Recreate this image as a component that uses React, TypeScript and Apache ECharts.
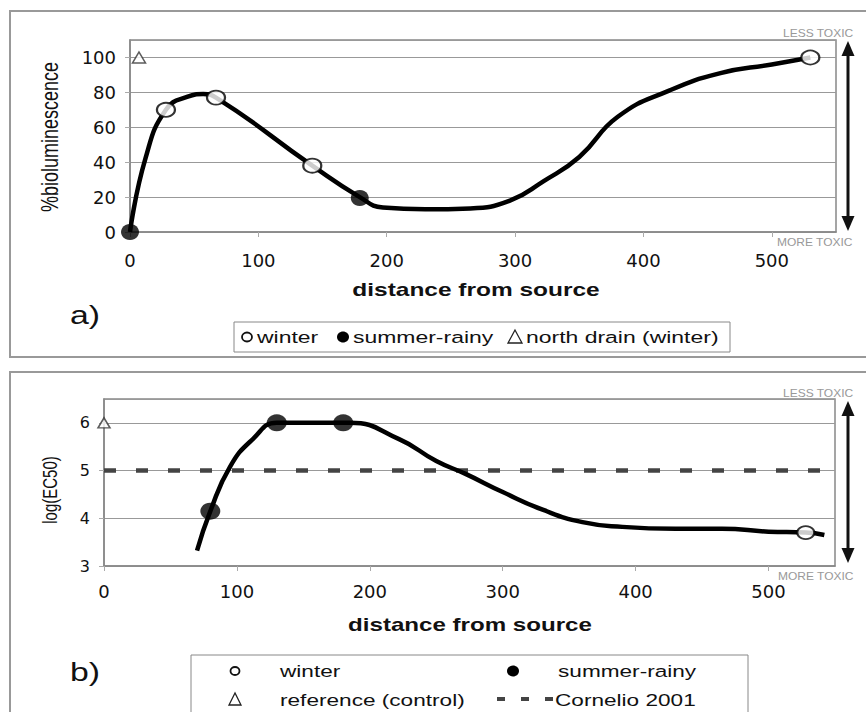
import React, { useEffect, useRef } from "react";
import * as echarts from "echarts";

// ---- data (panel a: % bioluminescence) ----
const aTrend: number[][] = [
  [0, 0], [12, 42], [28, 70], [45, 77.5], [57, 79], [67, 77], [142, 38],
  [179, 20], [197, 14], [230, 13], [265, 13.5], [296, 18], [322, 29],
  [350, 43], [380, 66], [420, 81], [460, 91], [500, 96], [530, 100],
];
const aWinter: number[][] = [[28, 70], [67, 77], [142, 38], [530, 100]];
const aSummer: number[][] = [[0, 0], [179, 19.5]];
const aNorthDrain: number[][] = [[7, 100]];

// ---- data (panel b: log(EC50)) ----
const bTrend: number[][] = [
  [70, 3.32], [80, 4.15], [95, 5.09], [112, 5.66], [130, 6], [155, 6], [185, 6],
  [222, 5.66], [250, 5.2], [272, 4.93], [300, 4.55], [330, 4.18], [360, 3.92],
  [390, 3.82], [430, 3.78], [465, 3.78], [500, 3.72], [528, 3.7], [542, 3.65],
];
const bWinter: number[][] = [[528, 3.7]];
const bSummer: number[][] = [[80, 4.15], [130, 6], [180, 6]];
const bReference: number[][] = [[0, 6]];
const bCornelio: number[][] = [[0, 5], [550, 5]];

const xTicks = [0, 100, 200, 300, 400, 500];
const aYTicks = [0, 20, 40, 60, 80, 100];
const bYTicks = [3, 4, 5, 6];

const SX = 1.35;
const FONT = "'Liberation Sans', Arial, sans-serif";

function txt(x: number, y: number, text: string, opts: any = {}) {
  return {
    type: "text",
    x,
    y,
    scaleX: opts.scaleX ?? SX,
    scaleY: opts.scaleY ?? 1,
    rotation: opts.rotation ?? 0,
    z: 10,
    style: {
      text,
      fill: opts.color ?? "#111",
      font: `${opts.weight ?? "normal"} ${opts.size ?? 17}px ${FONT}`,
      align: opts.align ?? "left",
      verticalAlign: "middle",
    },
  };
}

function arrow(x: number, y1: number, y2: number) {
  return [
    { type: "line", z: 10, shape: { x1: x, y1: y1 + 10, x2: x, y2: y2 - 10 }, style: { stroke: "#111", lineWidth: 3 } },
    { type: "polygon", z: 10, shape: { points: [[x, y1], [x - 6.5, y1 + 15], [x + 6.5, y1 + 15]] }, style: { fill: "#111" } },
    { type: "polygon", z: 10, shape: { points: [[x, y2], [x - 6.5, y2 - 15], [x + 6.5, y2 - 15]] }, style: { fill: "#111" } },
  ];
}

function xAxisCfg(gridIndex: number, margin: number) {
  return {
    type: "value",
    gridIndex,
    min: 0,
    max: 550,
    interval: 100,
    axisLine: { show: true, onZero: false, lineStyle: { color: "#888", width: 1.5 } },
    axisTick: { show: true, length: 5, lineStyle: { color: "#aaa" } },
    axisLabel: {
      margin,
      fontSize: 18,
      fontFamily: "'DejaVu Sans', sans-serif",
      color: "#111",
      showMaxLabel: false,
      formatter: (v: number) => (xTicks.includes(v) ? String(v) : ""),
    },
    splitLine: { show: false },
  };
}

export default function App() {
  const ref = useRef<HTMLDivElement>(null);
  useEffect(() => {
    if (!ref.current) return;
    const chart = echarts.init(ref.current, null, { renderer: "svg" });
    const option: any = {
      animation: false,
      backgroundColor: "#fff",
      grid: [
        { left: 130, top: 40, width: 706, height: 192, show: true, borderColor: "#888", borderWidth: 1.5, backgroundColor: "transparent" },
        { left: 104, top: 399, width: 731, height: 167, show: true, borderColor: "#888", borderWidth: 1.5, backgroundColor: "transparent" },
      ],
      xAxis: [xAxisCfg(0, 19), xAxisCfg(1, 16)],
      yAxis: [
        {
          type: "value", gridIndex: 0, min: 0, max: 110, interval: 20,
          axisLine: { show: true, lineStyle: { color: "#888", width: 1.5 } },
          axisTick: { show: true, length: 5, lineStyle: { color: "#aaa" } },
          axisLabel: {
            margin: 14, fontSize: 18, fontFamily: "'DejaVu Sans', sans-serif", color: "#111",
            showMaxLabel: false,
            formatter: (v: number) => (aYTicks.includes(v) ? String(v) : ""),
          },
          splitLine: { show: true, lineStyle: { color: "#999", width: 1.2 } },
        },
        {
          type: "value", gridIndex: 1, min: 3, max: 6.5, interval: 1,
          axisLine: { show: true, lineStyle: { color: "#888", width: 1.5 } },
          axisTick: { show: true, length: 5, lineStyle: { color: "#aaa" } },
          axisLabel: {
            margin: 14, fontSize: 16, fontFamily: "'DejaVu Sans', sans-serif", color: "#111",
            showMaxLabel: false,
            formatter: (v: number) => (bYTicks.includes(v) ? String(v) : ""),
          },
          splitLine: { show: true, lineStyle: { color: "#999", width: 1.2 } },
        },
      ],
      series: [
        {
          name: "trend a", type: "line", xAxisIndex: 0, yAxisIndex: 0, data: aTrend,
          smooth: 0.5, showSymbol: false, symbol: "none",
          lineStyle: { color: "#000", width: 4.5 }, z: 2,
        },
        {
          name: "winter", type: "scatter", xAxisIndex: 0, yAxisIndex: 0, data: aWinter,
          symbol: "circle", symbolSize: [18, 14],
          itemStyle: { color: "#fff", borderColor: "#000", borderWidth: 2 }, z: 3,
        },
        {
          name: "summer-rainy", type: "scatter", xAxisIndex: 0, yAxisIndex: 0, data: aSummer,
          symbol: "circle", symbolSize: [18, 16], itemStyle: { color: "#000" }, z: 3,
        },
        {
          name: "north drain (winter)", type: "scatter", xAxisIndex: 0, yAxisIndex: 0, data: aNorthDrain,
          symbol: "triangle", symbolSize: [13, 11],
          itemStyle: { color: "#fff", borderColor: "#333", borderWidth: 1.5 }, z: 3,
        },
        {
          name: "Cornelio 2001", type: "line", xAxisIndex: 1, yAxisIndex: 1, data: bCornelio,
          showSymbol: false, symbol: "none",
          lineStyle: { color: "#444", width: 4.5, type: [12, 20] }, z: 1,
        },
        {
          name: "trend b", type: "line", xAxisIndex: 1, yAxisIndex: 1, data: bTrend,
          smooth: 0.5, showSymbol: false, symbol: "none",
          lineStyle: { color: "#000", width: 4.5 }, z: 2,
        },
        {
          name: "winter b", type: "scatter", xAxisIndex: 1, yAxisIndex: 1, data: bWinter,
          symbol: "circle", symbolSize: [17, 13],
          itemStyle: { color: "#fff", borderColor: "#000", borderWidth: 2 }, z: 3,
        },
        {
          name: "summer-rainy b", type: "scatter", xAxisIndex: 1, yAxisIndex: 1, data: bSummer,
          symbol: "circle", symbolSize: [20, 17], itemStyle: { color: "#000" }, z: 3,
        },
        {
          name: "reference (control)", type: "scatter", xAxisIndex: 1, yAxisIndex: 1, data: bReference,
          symbol: "triangle", symbolSize: [12, 10],
          itemStyle: { color: "#fff", borderColor: "#333", borderWidth: 1.5 }, z: 3,
        },
      ],
      graphic: [
        // panel frames
        { type: "rect", z: -1, shape: { x: 10, y: 11, width: 870, height: 346 }, style: { fill: "none", stroke: "#999", lineWidth: 2 } },
        { type: "rect", z: -1, shape: { x: 10, y: 372, width: 870, height: 360 }, style: { fill: "none", stroke: "#999", lineWidth: 2 } },
        // axis titles
        txt(50, 137, "%bioluminescence", { rotation: Math.PI / 2, size: 18, align: "center", scaleX: 1, scaleY: 1.3 }),
        txt(50, 490, "log(EC50)", { rotation: Math.PI / 2, size: 15, align: "center", scaleX: 1, scaleY: 1.3 }),
        txt(476, 290, "distance from source", { weight: "bold", size: 18, align: "center", scaleX: 1.36 }),
        txt(470, 625, "distance from source", { weight: "bold", size: 18, align: "center", scaleX: 1.34 }),
        // panel labels
        txt(85, 315, "a)", { size: 26, align: "center", scaleX: 1.3 }),
        txt(85, 672, "b)", { size: 26, align: "center", scaleX: 1.3 }),
        // toxicity annotations
        txt(783, 33, "LESS TOXIC", { size: 10, color: "#999", scaleX: 1.2 }),
        txt(777, 242, "MORE TOXIC", { size: 10, color: "#999", scaleX: 1.2 }),
        txt(783, 393, "LESS TOXIC", { size: 10, color: "#999", scaleX: 1.2 }),
        txt(778, 576, "MORE TOXIC", { size: 10, color: "#999", scaleX: 1.2 }),
        ...arrow(848, 41, 231),
        ...arrow(848, 401, 563),
        // legend a
        { type: "rect", z: 9, shape: { x: 234, y: 322, width: 496, height: 30 }, style: { fill: "#fff", stroke: "#888", lineWidth: 1 } },
        { type: "ellipse", z: 10, shape: { cx: 247, cy: 337, rx: 5, ry: 4.5 }, style: { fill: "#fff", stroke: "#111", lineWidth: 1.8 } },
        txt(257, 337, "winter"),
        { type: "ellipse", z: 10, shape: { cx: 343, cy: 337, rx: 6, ry: 5.5 }, style: { fill: "#000" } },
        txt(353, 337, "summer-rainy"),
        { type: "polygon", z: 10, shape: { points: [[515, 330], [508, 343], [522, 343]] }, style: { fill: "#fff", stroke: "#222", lineWidth: 1.3 } },
        txt(526, 337, "north drain (winter)"),
        // legend b
        { type: "rect", z: 9, shape: { x: 191, y: 655, width: 557, height: 70 }, style: { fill: "#fff", stroke: "#888", lineWidth: 1 } },
        { type: "ellipse", z: 10, shape: { cx: 235, cy: 671, rx: 4.5, ry: 4 }, style: { fill: "#fff", stroke: "#111", lineWidth: 1.8 } },
        txt(280, 671, "winter", { scaleX: 1.33 }),
        { type: "ellipse", z: 10, shape: { cx: 513, cy: 671, rx: 6, ry: 5.5 }, style: { fill: "#000" } },
        txt(558, 671, "summer-rainy", { scaleX: 1.33 }),
        { type: "polygon", z: 10, shape: { points: [[235, 693], [229, 705], [241, 705]] }, style: { fill: "#fff", stroke: "#222", lineWidth: 1.3 } },
        txt(280, 700, "reference (control)", { scaleX: 1.33 }),
        { type: "line", z: 10, shape: { x1: 497, y1: 699, x2: 553, y2: 699 }, style: { stroke: "#444", lineWidth: 4, lineDash: [8, 16] } },
        txt(555, 700, "Cornelio 2001", { scaleX: 1.33 }),
      ],
    };
    chart.setOption(option);
    return () => chart.dispose();
  }, []);
  return (
    <div
      ref={ref}
      style={{ position: "fixed", left: 0, top: 0, width: 866, height: 712, background: "#fff" }}
    />
  );
}
